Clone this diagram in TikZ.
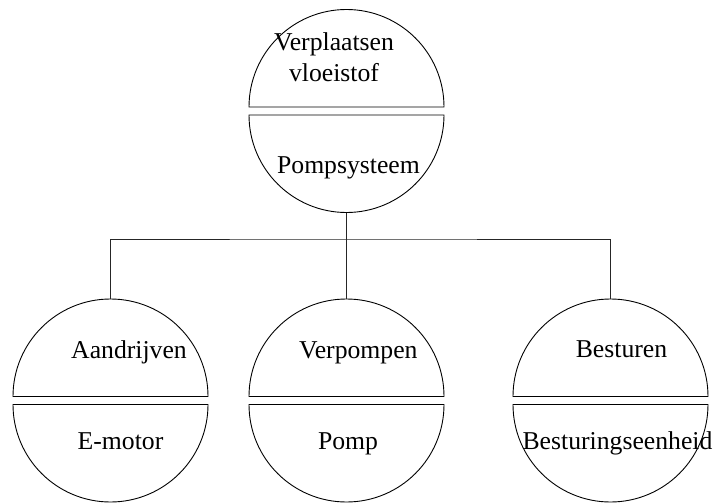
\documentclass[tikz,border=0pt]{standalone}
\usepackage{fontspec}
\setmainfont{Liberation Serif}
\begin{document}
\begin{tikzpicture}[x=1pt,y=-1pt,
  halfdisc/.style={line width=0.9pt, draw=black},
  link/.style={line width=0.6pt, draw=black!85},
  lbl/.style={inner sep=0pt, anchor=base, font=\fontsize{25.7}{31}\selectfont, align=center}]
\useasboundingbox (0,0) rectangle (718,503);
% split circle: #1 name, #2 centre x, #3 upper chord y, #4 lower chord y
\newcommand\splitdisc[4]{%
  \draw[halfdisc] (#2-97.5,#3) arc[start angle=180,end angle=0,radius=97.5pt] -- cycle;
  \draw[halfdisc] (#2-97.5,#4) arc[start angle=180,end angle=360,radius=97.5pt] -- cycle;
  \coordinate (#1-top) at (#2,#3-97.5);
  \coordinate (#1-bot) at (#2,#4+97.5);
}
\splitdisc{sys}{346.5}{107}{115}
\splitdisc{drive}{110.5}{396.5}{404.5}
\splitdisc{pump}{346.5}{396.5}{404.5}
\splitdisc{ctrl}{610.5}{396.5}{404.5}

% connectors
\coordinate (bus) at (346.5,239);
\draw[link] (sys-bot) -- (pump-top);
\draw[link] (drive-top) |- (bus) -| (ctrl-top);

% labels (the two-line label sits on the baseline of its last line)
\node[lbl] (sysF) at (334,81.5) {Verplaatsen\\vloeistof};
\node[lbl] (sysS) at (348.5,173) {Pompsysteem};
\node[lbl] (driveF) at (129,358) {Aandrijven};
\node[lbl] (driveS) at (120.5,449) {E-motor};
\node[lbl] (pumpF) at (358.3,358) {Verpompen};
\node[lbl] (pumpS) at (348,449) {Pomp};
\node[lbl] (ctrlF) at (621.5,357.5) {Besturen};
\node[lbl] (ctrlS) at (617.5,449) {Besturingseenheid};
\end{tikzpicture}
\end{document}
